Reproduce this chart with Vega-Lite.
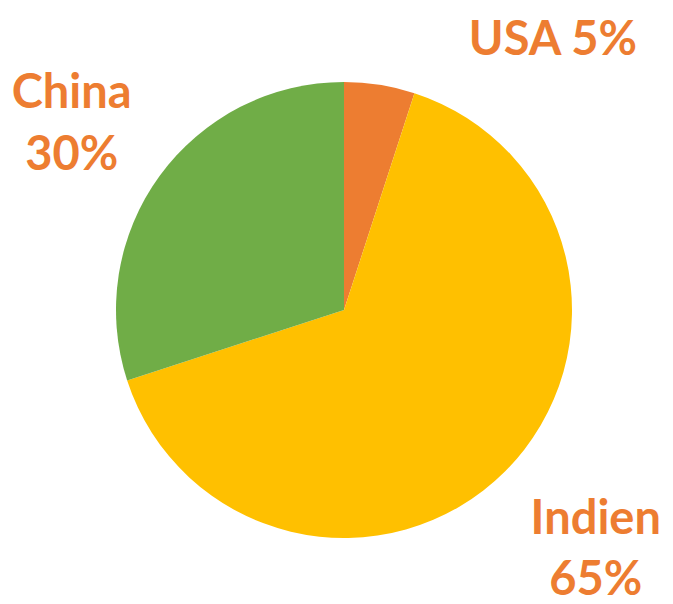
{
  "$schema": "https://vega.github.io/schema/vega-lite/v6.json",
  "autosize": "none",
  "width": 658,
  "height": 588,
  "padding": {"left": 15, "top": 16, "right": 0, "bottom": 0},
  "background": "white",
  "view": {"stroke": null},
  "data": {
    "values": [
      {"country": "USA", "value": 5, "rank": 1, "label": "USA 5%"},
      {"country": "Indien", "value": 65, "rank": 2, "label": "Indien\n65%"},
      {"country": "China", "value": 30, "rank": 3, "label": "China\n30%"}
    ]
  },
  "encoding": {
    "theta": {"field": "value", "type": "quantitative", "stack": true},
    "order": {"field": "rank", "type": "ordinal"}
  },
  "layer": [
    {
      "mark": {"type": "arc", "outerRadius": 228},
      "encoding": {
        "color": {
          "field": "country",
          "type": "nominal",
          "scale": {"domain": ["USA", "Indien", "China"], "range": ["#ED7D31", "#FFC000", "#70AD47"]},
          "legend": null
        }
      }
    },
    {
      "mark": {"type": "text", "radius": 349, "dx": 10, "dy": -11, "font": "Lato", "fontWeight": "bold", "fontSize": 47, "color": "#ED7D31", "align": "center", "baseline": "middle", "lineBreak": "\n", "lineHeight": 62},
      "encoding": {
        "text": {"condition": {"test": "datum.country === 'China'", "field": "label"}, "value": ""}
      }
    },
    {
      "mark": {"type": "text", "radius": 349, "dx": 5, "dy": -37, "font": "Lato", "fontWeight": "bold", "fontSize": 47, "color": "#ED7D31", "align": "center", "baseline": "middle", "lineBreak": "\n", "lineHeight": 61},
      "encoding": {
        "text": {"condition": {"test": "datum.country === 'Indien'", "field": "label"}, "value": ""}
      }
    },
    {
      "mark": {"type": "text", "radius": 300, "dx": 162, "dy": 27, "font": "Lato", "fontWeight": "bold", "fontSize": 47, "color": "#ED7D31", "align": "center", "baseline": "middle"},
      "encoding": {
        "text": {"condition": {"test": "datum.country === 'USA'", "field": "label"}, "value": ""}
      }
    }
  ]
}
